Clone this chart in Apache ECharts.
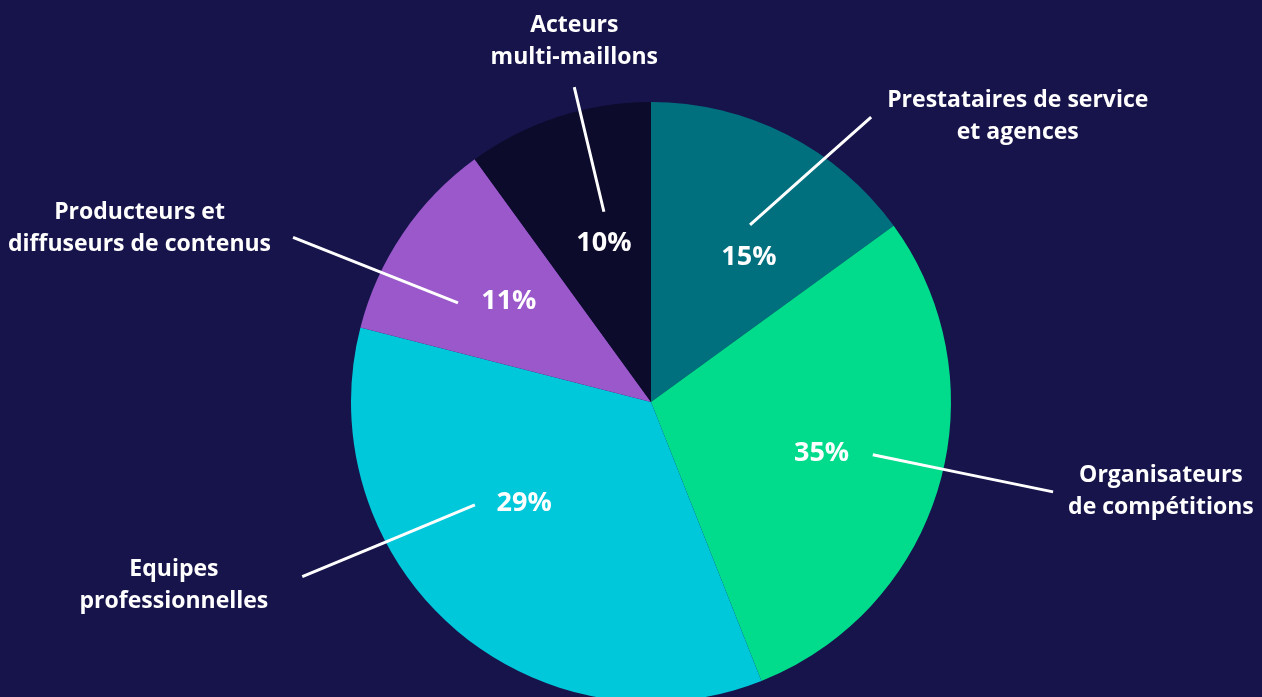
<!DOCTYPE html>
<html><head><meta charset="utf-8">
<script src="https://cdn.jsdelivr.net/npm/echarts@6.0.0/dist/echarts.min.js"></script>
<style>html,body{margin:0;padding:0;background:#17144b;}#chart{width:1262px;height:697px;}</style>
</head><body><div id="chart"></div>
<script>
// ---- data ----
const categories = [
  "Prestataires de service\net agences",
  "Organisateurs\nde compétitions",
  "Equipes\nprofessionnelles",
  "Producteurs et\ndiffuseurs de contenus",
  "Acteurs\nmulti-maillons"
];
// slice shares as drawn in the reference picture
const sliceValues = [15, 29, 35, 11, 10];
// percentage texts as printed in the reference picture
const percentLabels = ["15%", "35%", "29%", "11%", "10%"];

// ---- styles / layout ----
const colors = ["#00707f", "#00dc8b", "#00c8db", "#9a58cb", "#0d0b2c"];
const CX = 651, CY = 402, R = 300;
// polar placements: [angle deg clockwise from 12 o'clock, radius px]
const pctPos = [[34, 175], [106.6, 178], [231.5, 162], [305.2, 174], [343.5, 166]];
const leader = [
  {from: [29.2, 203], to: [37.7, 360], side: 'right', gap: 16, dy: -1},
  {from: [103.4, 228], to: [102.6, 412], side: 'right', gap: 15, dy: 0},
  {from: [239.7, 204], to: [243.4, 390], side: 'left', gap: 34, dy: 9},
  {from: [297.2, 217], to: [294.7, 394], side: 'left', gap: 22, dy: -9},
  {from: [346.1, 196], to: [346.3, 324], side: 'top', gap: 14, dy: 0}
];
function polar(a, r) {
  const t = a * Math.PI / 180;
  return [CX + r * Math.sin(t), CY - r * Math.cos(t)];
}
const FONT = '"Open Sans", sans-serif';

const chart = echarts.init(document.getElementById('chart'), null, {renderer: 'canvas'});
const base = {
  type: 'pie', center: [CX, CY], radius: R, startAngle: 90, clockwise: true,
  avoidLabelOverlap: false, silent: true, emphasis: {disabled: true}
};
const ghostData = categories.map((n, i) => ({name: n, value: sliceValues[i]}));

chart.setOption({
  backgroundColor: '#17144b',
  animation: false,
  series: [
    Object.assign({}, base, {
      z: 1,
      itemStyle: {borderWidth: 0},
      data: categories.map((n, i) => ({name: n, value: sliceValues[i], itemStyle: {color: colors[i]}})),
      label: {show: false},
      labelLine: {show: false}
    }),
    Object.assign({}, base, {
      z: 3,
      itemStyle: {color: 'rgba(0,0,0,0)', borderWidth: 0},
      data: ghostData,
      label: {
        show: true,
        position: 'outside',
        color: '#ffffff',
        fontFamily: FONT,
        fontWeight: 'bold',
        fontSize: 23,
        lineHeight: 32,
        formatter: p => p.name
      },
      labelLine: {show: true, smooth: false, lineStyle: {color: '#ffffff', width: 3}},
      labelLayout: function (p) {
        const L = leader[p.dataIndex];
        const s = polar(L.from[0], L.from[1]);
        const e = polar(L.to[0], L.to[1]);
        const w = p.labelRect.width, h = p.labelRect.height;
        let x, y = e[1] + L.dy;
        if (L.side === 'right') x = e[0] + L.gap + w / 2;
        else if (L.side === 'left') x = e[0] - L.gap - w / 2;
        else { x = e[0]; y = e[1] - L.gap - h / 2; }
        const m = [(s[0] + e[0]) / 2, (s[1] + e[1]) / 2];
        return {x: x, y: y, align: 'center', verticalAlign: 'middle', labelLinePoints: [s, m, e]};
      }
    }),
    Object.assign({}, base, {
      z: 4,
      itemStyle: {color: 'rgba(0,0,0,0)', borderWidth: 0},
      data: ghostData,
      label: {
        show: true,
        position: 'inside',
        color: '#ffffff',
        fontFamily: FONT,
        fontWeight: 'bold',
        fontSize: 27,
        formatter: p => percentLabels[p.dataIndex]
      },
      labelLine: {show: false},
      labelLayout: function (p) {
        const q = pctPos[p.dataIndex];
        const c = polar(q[0], q[1]);
        return {x: c[0], y: c[1], align: 'center', verticalAlign: 'middle'};
      }
    })
  ]
});
</script></body></html>
